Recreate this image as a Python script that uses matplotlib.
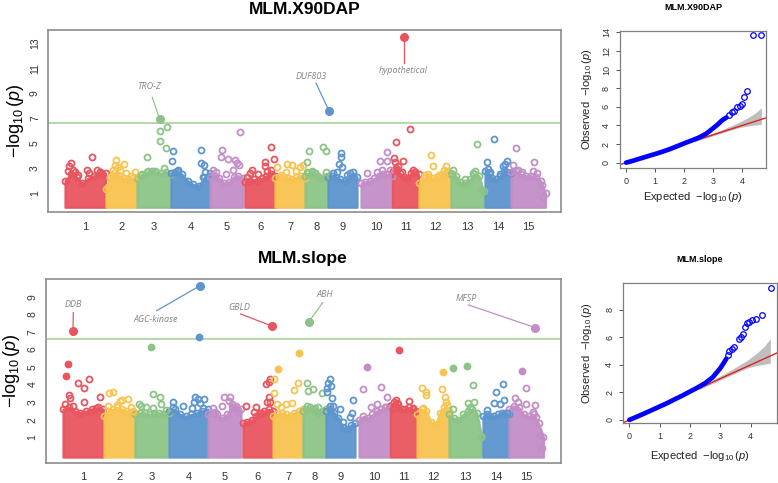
import numpy as np
import matplotlib
matplotlib.use("Agg")
import matplotlib.pyplot as plt

plt.rcParams['font.family'] = ['Liberation Sans', 'DejaVu Sans']
plt.rcParams['mathtext.fontset'] = 'custom'
plt.rcParams['mathtext.rm'] = 'Liberation Sans'
plt.rcParams['mathtext.it'] = 'Liberation Sans:italic'

# chromosome layout (genome axis units)
chrom_names = [str(i) for i in range(1, 16)]
chrom_start = [17, 58, 89, 123, 162, 197, 227, 257, 280, 313, 344.5, 371, 403, 437, 463]
chrom_end = [57.5, 89, 123, 162, 195, 227, 257, 280, 309, 344, 370.5, 403, 435.5, 463, 497.5]
palette = ['#E8555F', '#F8C34F', '#8CC487', '#5D95CF', '#C38EC7']

# ---- MLM.X90DAP ----
# upper edge of the dense SNP cloud, sampled evenly along each chromosome
x90_env = [
    [2.0, 2.5, 2.3, 1.8, 2.2, 2.4, 2.7, 2.6],
    [1.3, 2.3, 2.7, 2.4, 2.2, 2.1, 2.2, 2.3],
    [2.2, 2.5, 2.7, 2.8, 2.7, 2.6, 2.7, 2.5],
    [2.6, 2.8, 2.5, 2.0, 1.7, 1.6, 2.3, 2.6],
    [2.3, 2.4, 2.2, 1.8, 1.9, 2.3, 2.4, 2.2],
    [1.9, 2.0, 2.1, 2.0, 2.2, 2.4, 2.5, 2.4],
    [2.2, 2.3, 2.3, 2.2, 2.1, 2.3, 2.4, 2.2],
    [2.4, 2.6, 2.7, 2.6, 2.4, 2.2, 2.3, 2.4],
    [2.3, 2.4, 2.3, 2.1, 2.0, 2.2, 2.4, 2.3],
    [1.8, 1.9, 2.0, 2.2, 2.4, 2.5, 2.5, 2.4],
    [2.8, 3.0, 2.6, 2.3, 2.2, 2.6, 2.7, 2.5],
    [1.8, 2.2, 2.3, 2.2, 2.3, 2.5, 2.7, 2.6],
    [2.5, 2.4, 1.9, 1.8, 2.1, 2.5, 2.4, 1.2],
    [2.8, 2.6, 2.2, 2.1, 2.4, 2.6, 2.7, 2.6],
    [2.7, 2.8, 2.5, 2.4, 2.4, 2.3, 2.0, 1.0],
]
x90_pos = [22.7, 20.7, 25, 26.7, 30, 39.3, 41, 44.3, 49.3, 51.7, 54, 20,
           68.3, 76, 66.7, 70, 65, 71.7, 61.7, 78.3, 86.7, 83.3, 60,
           99.3, 119, 112.3, 111.7, 118.3, 115.7, 100, 106.7, 93.3,
           125, 124.3, 152.7, 152.7, 156, 157.3, 130, 126.7, 155,
           191.7, 174, 173.3, 180, 186.7, 189.3, 191.3, 165, 167.7, 185, 178.3,
           222.7, 226, 217.3, 216.7, 222.7, 219.3, 204, 201.7, 210, 199.3,
           229.3, 239.3, 244.3, 251.7, 255, 238.3, 248.3, 233.3,
           261.3, 259.3, 275.3, 278, 258.7, 263.7, 267, 278,
           293, 293, 291.3, 293.7, 285.3, 288.7, 302, 305.3, 298.7,
           338.7, 332, 339.3, 333.7, 318.7, 328.7, 342,
           362, 348, 346.3, 347, 355.3, 350.3, 348.7, 365.3, 367, 353.7,
           383, 385.3, 397.7, 396, 400.3, 377, 391.3, 380.3,
           428.7, 405.3, 404.3, 424.7, 427, 417, 433.7,
           446, 439.3, 440.3, 459.3, 457, 454.7, 456, 442, 452,
           468, 486.3, 465.3, 470.3, 473.7, 485.3, 489.3, 493.7, 494.7]
x90_logp = [3.43, 3.16, 2.89, 2.71, 2.44, 2.84, 2.63, 3.91, 2.84, 2.71, 2.57, 2.79,
            3.64, 3.37, 3.29, 3.11, 2.84, 2.84, 2.23, 2.63, 2.71, 2.36, 1.51,
            3.91, 6.31, 5.96, 5.16, 4.63, 3.05, 2.76, 2.79, 2.44,
            4.39, 3.59, 4.49, 3.43, 3.24, 2.71, 2.84, 2.71, 2.31,
            5.91, 4.44, 3.91, 3.77, 3.69, 3.43, 3.24, 2.84, 2.71, 2.84, 2.52,
            4.71, 3.77, 3.51, 3.16, 2.84, 2.79, 2.89, 2.63, 2.52, 2.31,
            3.11, 3.32, 3.24, 3.11, 3.24, 2.71, 2.79, 2.44,
            4.39, 3.51, 4.71, 4.36, 2.71, 2.79, 2.63, 2.71,
            4.23, 3.91, 3.37, 3.11, 2.63, 2.71, 2.63, 2.71, 2.44,
            4.31, 3.56, 3.56, 2.84, 2.63, 2.71, 2.84,
            6.12, 5.11, 3.85, 3.51, 3.59, 3.16, 2.84, 2.89, 2.71, 2.71,
            4.09, 3.19, 3.16, 2.84, 2.71, 2.44, 2.44, 2.57,
            4.97, 2.84, 2.52, 2.63, 2.79, 2.17, 1.24,
            5.37, 3.48, 2.97, 3.56, 3.37, 3.16, 2.89, 2.71, 2.52,
            4.63, 3.51, 3.24, 2.89, 2.71, 2.79, 2.63, 1.64, 0.71]
x90_genes = ['TRO-Z', 'DUF803', 'hypothetical']
x90_gene_pos = [111.7, 281.3, 356.3]
x90_gene_logp = [6.9, 7.53, 13.48]

# ---- MLM.slope ----
slope_env = [
    [2.6, 2.7, 2.5, 2.4, 2.5, 2.6, 2.7, 2.6],
    [2.2, 2.5, 2.6, 2.7, 2.6, 2.5, 2.4, 2.4],
    [2.3, 2.4, 2.4, 2.3, 2.4, 2.4, 2.3, 2.4],
    [2.5, 2.6, 2.3, 2.2, 2.3, 2.4, 2.5, 2.6],
    [2.3, 2.4, 2.3, 2.1, 2.3, 2.7, 2.8, 2.6],
    [1.8, 1.9, 2.0, 2.2, 2.4, 2.5, 2.6, 2.5],
    [2.2, 2.3, 2.4, 2.3, 2.2, 2.4, 2.5, 2.6],
    [2.5, 2.6, 2.7, 2.6, 2.5, 2.4, 2.5, 2.6],
    [2.5, 2.6, 2.4, 2.1, 1.6, 1.5, 1.7, 1.8],
    [2.0, 2.2, 2.1, 2.3, 2.5, 2.6, 2.7, 2.8],
    [2.8, 3.0, 2.9, 2.6, 2.6, 2.7, 2.6, 2.5],
    [2.3, 2.6, 2.5, 1.9, 1.7, 2.4, 2.7, 2.5],
    [2.3, 2.1, 2.0, 2.3, 2.5, 2.6, 2.4, 1.1],
    [2.2, 2.3, 2.2, 2.2, 2.3, 2.4, 2.4, 2.3],
    [2.6, 2.8, 2.7, 2.3, 2.2, 2.3, 1.8, 1.0],
]
slope_pos = [21.7, 20, 32.3, 37.7, 42.7, 22.7, 24.3, 38.3, 54, 19.3, 26.7, 45, 50,
             62.7, 66.7, 74, 76, 81.7, 61.7, 70.7, 85, 87.3,
             105, 107.3, 114.3, 115, 92.7, 95, 100, 120, 106.7,
             152.7, 126.7, 127.3, 136.7, 146, 149.3, 151.7, 158.3, 154.3, 156.7, 148.3,
             177.7, 184, 183.3, 186, 188.3, 166.7, 169.3, 191.7, 176,
             200, 210, 208.3, 220, 222.7, 224.3, 222.7, 220.7, 224, 215,
             228.3, 231.7, 228.3, 231, 248.3, 251.7, 252.7, 240, 246, 235,
             261.3, 262.3, 266.7, 275.7, 260.7, 269, 272.3,
             284, 282.3, 281.3, 280.7, 284.7, 285.7, 287.3, 284, 294, 306.7, 305.7, 304, 297.3,
             320.7, 317.3, 335, 341.3, 331.3, 325, 339,
             353, 350, 351.3, 363.3, 367.3, 348.3,
             397.3, 376.3, 380, 380, 395.7, 399, 400, 400.7, 377.3,
             406.7, 420.7, 426.7, 422.3, 428, 424, 407.3, 435,
             450, 456.7, 440.7, 448, 454, 458.3, 460.7,
             476, 480, 469, 472.3, 480, 489, 487.3, 490, 494, 495.7]
slope_logp = [5.15, 4.49, 4.07, 3.83, 4.3, 3.41, 3.22, 3.03, 3.31, 2.9, 2.78, 2.46, 2.65,
              3.5, 3.6, 3.09, 3.12, 3.18, 2.78, 2.84, 2.75, 2.52,
              6.16, 3.45, 3.28, 2.88, 2.9, 2.78, 2.75, 2.56, 2.65,
              6.73, 3.03, 2.75, 2.78, 2.65, 3.31, 3.16, 3.16, 2.94, 2.65, 3.03,
              3.28, 3.28, 3.09, 2.9, 2.75, 2.65, 2.46, 2.46, 2.78,
              2.78, 2.75, 2.46, 4.03, 4.17, 4.3, 3.31, 2.99, 2.99, 2.37,
              4.32, 4.89, 3.5, 2.9, 3.69, 4.07, 5.82, 2.9, 2.93, 2.75,
              4.11, 3.64, 3.73, 3.5, 2.78, 2.65, 2.71,
              4.3, 4.07, 3.79, 3.6, 3.92, 3.26, 2.78, 2.78, 2.59, 3.12, 2.4, 2.18, 1.89,
              5.02, 3.73, 3.85, 3.28, 2.9, 2.75, 2.75,
              5.97, 3.12, 2.97, 3.09, 2.65, 2.65,
              4.74, 3.79, 3.6, 3.41, 3.73, 3.31, 3.03, 2.84, 2.65,
              4.93, 5.06, 3.98, 2.94, 3.03, 2.71, 2.59, 1.04,
              3.6, 4.03, 2.56, 2.93, 2.9, 3.12, 2.37,
              4.79, 3.83, 3.22, 3.03, 2.88, 2.84, 2.46, 2.18, 1.13, 0.37]
slope_genes = ['DDB', 'AGC-kinase', 'GBLD', 'ABH', 'MFSP']
slope_gene_pos = [27, 154, 225.7, 263, 489]
slope_gene_logp = [7.07, 9.62, 7.33, 7.58, 7.24]

threshold = 6.6

# ---- QQ data ----
qq_x90_exp = [0.0, 0.25, 0.5, 0.75, 1.0, 1.25, 1.5, 1.75, 2.0, 2.25, 2.5, 2.75, 3.0, 3.15, 3.3, 3.45]
qq_x90_obs = [0.0, 0.22, 0.46, 0.70, 0.93, 1.18, 1.45, 1.76, 2.08, 2.38, 2.69, 3.1, 3.72, 4.1, 4.55, 4.85]
qq_x90_tail_exp = [3.55, 3.64, 3.72, 3.81, 3.90, 3.97, 4.04, 4.15, 4.35, 4.64]
qq_x90_tail_obs = [5.15, 5.41, 5.6, 5.95, 6.09, 6.31, 7.03, 7.74, 13.73, 13.73]
qq_slope_exp = [0.0, 0.25, 0.5, 0.75, 1.0, 1.25, 1.5, 1.75, 2.0, 2.25, 2.5, 2.75, 3.0, 3.1, 3.2]
qq_slope_obs = [0.0, 0.23, 0.47, 0.72, 0.97, 1.22, 1.5, 1.77, 2.06, 2.35, 2.67, 3.1, 3.76, 4.1, 4.45]
qq_slope_tail_exp = [3.26, 3.3, 3.37, 3.45, 3.63, 3.69, 3.76, 3.80, 3.89, 3.96, 4.04, 4.18, 4.36, 4.66]
qq_slope_tail_obs = [4.75, 5.0, 5.14, 5.28, 5.87, 6.01, 6.23, 6.79, 7.08, 7.15, 7.27, 7.35, 7.64, 9.62]
qq_band_exp = [2.3, 2.7, 3.0, 3.3, 3.6, 3.9, 4.2, 4.45, 4.65]
qq_band_hi = [2.4, 2.85, 3.2, 3.55, 3.95, 4.35, 4.85, 5.35, 5.9]
qq_band_lo = [2.2, 2.6, 2.9, 3.2, 3.5, 3.78, 3.95, 4.05, 4.12]

W, H = 778, 483
fig = plt.figure(figsize=(W / 100, H / 100), dpi=100)


def box(l, t, r, b):
    return [l / W, 1 - b / H, (r - l) / W, (b - t) / H]


def fxy(px, py):
    return px / W, 1 - py / H


def manhattan(ax, env, pos, logp, genes, gpos, glogp, labels, fill_above):
    for i in range(len(chrom_names)):
        col = palette[i % 5]
        xs = np.linspace(chrom_start[i], chrom_end[i], len(env[i]))
        ax.fill_between(xs, -0.12, env[i], color=col, edgecolor=col, lw=1.6, alpha=0.95)
        # ragged top of the cloud
        ax.plot(xs, env[i], 'o', ms=4.3, mfc='none', mec=col, mew=1.3)
    idx = np.searchsorted(chrom_start, pos, side='right') - 1
    for p, v, k in zip(pos, logp, idx):
        col = palette[k % 5]
        if v >= fill_above:
            ax.plot(p, v, 'o', ms=4.6, color=col)
        else:
            ax.plot(p, v, 'o', ms=4.3, mfc='none', mec=col, mew=1.3)
    ax.axhline(threshold, color='#9fcf95', lw=1.1, zorder=1)
    gidx = np.searchsorted(chrom_start, gpos, side='right') - 1
    for g, p, v, k, (tx, ty, lx, ly) in zip(genes, gpos, glogp, gidx, labels):
        col = palette[k % 5]
        ax.plot([lx, p], [ly, v], color=col, lw=0.9)
        ax.plot(p, v, 'o', ms=5.5, color=col)
        ax.text(tx, ty, g, fontsize=6.5, style='italic', color='#858585',
                ha='center', va='center', family=['Open Sans', 'DejaVu Sans'])
    mids = [(s + e) / 2 for s, e in zip(chrom_start, chrom_end)]
    ax.set_xticks(mids)
    ax.set_xticklabels(chrom_names, fontsize=8, color='#333333')
    ax.tick_params(length=0)
    ax.tick_params(axis='x', pad=7)
    ax.tick_params(axis='y', labelrotation=90, pad=6, labelsize=7.5, labelcolor='#333333')
    for lab in ax.get_yticklabels():
        lab.set_va('center')
    for s in ax.spines.values():
        s.set_color('#8c8c8c')
        s.set_linewidth(1.2)


# top Manhattan
ax1 = fig.add_axes(box(48.3, 30, 561, 212))
manhattan(ax1, x90_env, x90_pos, x90_logp, x90_genes, x90_gene_pos, x90_gene_logp,
          [(101, 9.5, 104.3, 8.66), (263.7, 10.3, 268, 9.8), (355.3, 10.84, 356.3, 11.37)],
          fill_above=99)
ax1.set_xlim(0.3, 513)
ax1.set_ylim(-0.5, 14.04)
ax1.set_yticks([1, 3, 5, 7, 9, 11, 13])
fig.text(*fxy(304.5, 9.5), 'MLM.X90DAP', fontsize=12.5, fontweight='bold', ha='center', va='center')
fig.text(*fxy(15, 121), r'$-\log_{10}(p)$', fontsize=13, rotation=90, ha='center', va='center')

# bottom Manhattan
ax2 = fig.add_axes(box(45.7, 279, 561, 462.7))
manhattan(ax2, slope_env, slope_pos, slope_logp, slope_genes, slope_gene_pos, slope_gene_logp,
          [(27.3, 8.53, 27.3, 8.09), (110, 7.71, 110.7, 8.2), (193.3, 8.4, 194.7, 8.01),
           (279, 9.1, 276.7, 8.66), (420.7, 8.9, 422.3, 8.53)],
          fill_above=4.4)
ax2.set_xlim(-0.3, 515)
ax2.set_ylim(-0.44, 10.0)
ax2.set_yticks(range(1, 10))
fig.text(*fxy(303, 258), 'MLM.slope', fontsize=12.5, fontweight='bold', ha='center', va='center')
fig.text(*fxy(12, 371), r'$-\log_{10}(p)$', fontsize=13, rotation=90, ha='center', va='center')


def qqplot(ax, ex, ob, tex, tob):
    ax.fill_between(qq_band_exp, qq_band_lo, qq_band_hi, color='#bebebe', lw=0)
    ax.axline((0, 0), slope=1, color='#e02020', lw=1.0)
    ax.plot(ex, ob, color='#0000ff', lw=3.4, solid_capstyle='round')
    ax.plot(tex, tob, 'o', ms=4, mfc='none', mec='#0000ff', mew=0.9)
    ax.tick_params(length=3, width=0.7, color='#555555', labelsize=6.5, labelcolor='#333333')
    ax.tick_params(axis='y', labelrotation=90)
    for lab in ax.get_yticklabels():
        lab.set_va('center')
    ax.set_xticks([0, 1, 2, 3, 4])
    for s in ax.spines.values():
        s.set_color('#7f7f7f')
        s.set_linewidth(0.9)


ax3 = fig.add_axes(box(620, 31, 766, 167.7))
qqplot(ax3, qq_x90_exp, qq_x90_obs, qq_x90_tail_exp, qq_x90_tail_obs)
ax3.set_xlim(-0.21, 4.81)
ax3.set_ylim(-0.54, 14.14)
ax3.set_yticks(range(0, 15, 2))
fig.text(*fxy(693, 7.5), 'MLM.X90DAP', fontsize=6.5, fontweight='bold', ha='center', va='center')
fig.text(*fxy(693, 197), r'Expected  $-\log_{10}(p)$', fontsize=8, ha='center', va='center', color='#222222')
fig.text(*fxy(587, 99), r'Observed  $-\log_{10}(p)$', fontsize=8, rotation=90, ha='center', va='center', color='#222222')

ax4 = fig.add_axes(box(623.3, 282.7, 776.7, 423.3))
qqplot(ax4, qq_slope_exp, qq_slope_obs, qq_slope_tail_exp, qq_slope_tail_obs)
ax4.set_xlim(-0.2, 4.86)
ax4.set_ylim(-0.25, 9.98)
ax4.set_yticks([0, 2, 4, 6, 8])
fig.text(*fxy(700, 259.3), 'MLM.slope', fontsize=6.5, fontweight='bold', ha='center', va='center')
fig.text(*fxy(700, 456), r'Expected  $-\log_{10}(p)$', fontsize=8, ha='center', va='center', color='#222222')
fig.text(*fxy(587.3, 353), r'Observed  $-\log_{10}(p)$', fontsize=8, rotation=90, ha='center', va='center', color='#222222')

fig.savefig('out.png', dpi=100)
